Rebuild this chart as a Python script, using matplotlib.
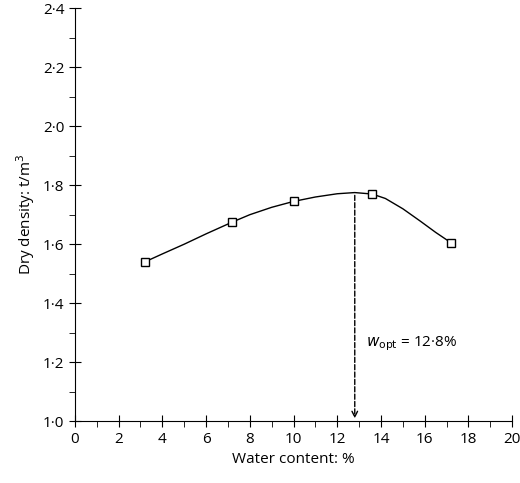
import matplotlib.pyplot as plt
from matplotlib.ticker import MultipleLocator

plt.rcParams['font.family'] = ['Open Sans', 'DejaVu Sans']

# measured points
water = [3.2, 7.2, 10.0, 13.6, 17.2]
density = [1.54, 1.675, 1.745, 1.77, 1.605]

# fitted curve
curve_x = [3.2, 4.0, 5.0, 6.0, 7.2, 8.0, 9.0, 10.0, 11.0, 12.0, 12.8, 13.6, 14.2, 15.0, 15.8, 16.5, 17.2]
curve_y = [1.54, 1.567, 1.600, 1.635, 1.675, 1.700, 1.725, 1.745, 1.760, 1.771, 1.775, 1.770, 1.755, 1.720, 1.678, 1.640, 1.605]

w_opt = 12.8
rho_max = 1.775

fig = plt.figure(figsize=(5.2, 4.83), dpi=100)
ax = fig.add_axes([0.144, 0.128, 0.841, 0.855])

ax.plot(curve_x, curve_y, color='black', lw=1)
ax.plot(water, density, linestyle='none', marker='s', markersize=5.5,
        markerfacecolor='white', markeredgecolor='black', markeredgewidth=1)

ax.annotate('', xy=(w_opt, 1.0), xytext=(w_opt, rho_max),
            arrowprops=dict(arrowstyle='->', linestyle='--', color='black', lw=1))
ax.text(13.3, 1.255, r'$w_{\mathrm{opt}}$ = 12·8%', fontsize=11)

ax.set_xlim(0, 20)
ax.set_ylim(1.0, 2.4)
ax.set_xticks(range(0, 21, 2))
ax.xaxis.set_minor_locator(MultipleLocator(1))
yt = [1.0 + 0.2 * i for i in range(8)]
ax.set_yticks(yt)
ax.yaxis.set_minor_locator(MultipleLocator(0.1))
ax.set_yticklabels([f'{v:.1f}'.replace('.', '·') for v in yt])
ax.spines['top'].set_visible(False)
ax.spines['right'].set_visible(False)
ax.tick_params(which='major', direction='inout', length=8, labelsize=11)
ax.tick_params(which='minor', direction='out', length=4)
ax.set_xlabel('Water content: %', fontsize=11)
ax.set_ylabel('Dry density: t/m$^3$', fontsize=11)

fig.savefig('out.png')
